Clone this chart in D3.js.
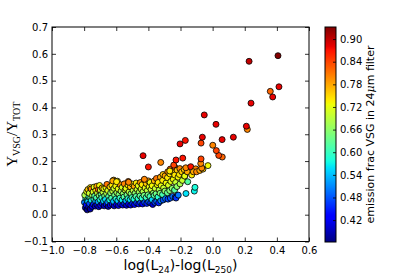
<meta charset="utf-8">
<style>
  body { margin: 0; background: #fff; }
  svg text { font-family: "DejaVu Sans", sans-serif; }
  .tick line { stroke: #000; stroke-width: 0.8; }
  .dot { stroke: #000; stroke-width: 0.8; }
</style>
<body>
<script src="https://d3js.org/d3.v7.min.js"></script>
<script>

// ticks
var xTicks = [-1.0, -0.8, -0.6, -0.4, -0.2, 0.0, 0.2, 0.4, 0.6];
var yTicks = [-0.1, 0.0, 0.1, 0.2, 0.3, 0.4, 0.5, 0.6, 0.7];
var cbarTicks = [0.42, 0.48, 0.54, 0.60, 0.66, 0.72, 0.78, 0.84, 0.90];
var fracRange = [0.362, 0.932];

// points: [log(L24)-log(L250), Yvsg/Ytot, emission frac]
var clusterLeft = [
  [-0.792,0.026,0.38],[-0.798,0.046,0.50],[-0.789,0.061,0.58],[-0.796,0.073,0.68],
  [-0.781,0.018,0.37],[-0.787,0.036,0.44],[-0.780,0.054,0.62],[-0.784,0.086,0.72],
  [-0.772,0.029,0.40],[-0.777,0.049,0.55],[-0.770,0.067,0.60],[-0.776,0.094,0.76],
  [-0.762,0.021,0.38],[-0.767,0.041,0.47],[-0.759,0.063,0.64],[-0.768,0.080,0.70],[-0.761,0.101,0.74],
  [-0.750,0.031,0.42],[-0.755,0.053,0.57],[-0.748,0.072,0.67],[-0.756,0.096,0.80],
  [-0.742,0.039,0.45],[-0.739,0.058,0.60],[-0.744,0.085,0.71],[-0.738,0.103,0.72],
  [-0.731,0.032,0.40],[-0.728,0.050,0.53],[-0.734,0.070,0.62],[-0.727,0.090,0.74],
  [-0.720,0.037,0.43],[-0.723,0.063,0.61],[-0.717,0.081,0.70],[-0.721,0.106,0.78],
  [-0.709,0.030,0.40],[-0.713,0.048,0.52],[-0.706,0.071,0.65],[-0.711,0.094,0.82],[-0.704,0.109,0.73],
  [-0.697,0.035,0.42],[-0.701,0.056,0.58],[-0.694,0.076,0.63],[-0.699,0.092,0.71],
  [-0.686,0.041,0.45],[-0.690,0.063,0.60],[-0.683,0.084,0.69],[-0.688,0.100,0.77],
  [-0.675,0.033,0.39],[-0.679,0.051,0.55],[-0.672,0.070,0.64],[-0.677,0.097,0.72],
  [-0.662,0.039,0.44],[-0.667,0.057,0.56],[-0.660,0.079,0.68],[-0.664,0.101,0.73],[-0.658,0.113,0.81],
  [-0.650,0.031,0.39],[-0.653,0.047,0.51],[-0.647,0.068,0.62],[-0.652,0.090,0.71],
  [-0.637,0.036,0.42],[-0.641,0.055,0.58],[-0.635,0.081,0.66],[-0.639,0.104,0.75],
  [-0.625,0.040,0.45],[-0.629,0.062,0.61],[-0.622,0.088,0.69],[-0.627,0.110,0.74],
  [-0.613,0.033,0.40],[-0.617,0.050,0.54],[-0.610,0.073,0.64],[-0.614,0.098,0.70],[-0.616,0.129,0.77],
  [-0.598,0.038,0.43],[-0.602,0.059,0.59],[-0.596,0.082,0.67],[-0.603,0.107,0.73],[-0.593,0.125,0.72],
  [-0.586,0.034,0.41],[-0.590,0.052,0.55],[-0.583,0.075,0.65],[-0.588,0.096,0.72],
  [-0.573,0.040,0.45],[-0.577,0.062,0.60],[-0.570,0.088,0.68],[-0.576,0.112,0.79],
  [-0.560,0.036,0.42],[-0.564,0.055,0.57],[-0.557,0.078,0.66],[-0.563,0.102,0.71],
  [-0.548,0.042,0.46],[-0.552,0.066,0.62],[-0.545,0.092,0.70],[-0.550,0.115,0.80],
  [-0.536,0.035,0.41],[-0.540,0.052,0.53],[-0.533,0.074,0.64],[-0.539,0.098,0.72],
  [-0.523,0.040,0.44],[-0.527,0.060,0.59],[-0.520,0.085,0.69],[-0.526,0.110,0.74],[-0.525,0.124,0.81],
  [-0.510,0.036,0.42],[-0.514,0.056,0.56],[-0.508,0.078,0.65],[-0.512,0.104,0.76]
];

var clusterRight = [
  [-0.498,0.042,0.46],[-0.502,0.064,0.61],[-0.495,0.090,0.69],[-0.500,0.114,0.73],
  [-0.486,0.038,0.43],[-0.490,0.058,0.58],[-0.483,0.080,0.66],[-0.488,0.106,0.78],
  [-0.473,0.044,0.47],[-0.477,0.068,0.62],[-0.470,0.094,0.70],[-0.476,0.118,0.74],
  [-0.460,0.040,0.44],[-0.464,0.060,0.59],[-0.457,0.084,0.67],[-0.463,0.108,0.72],
  [-0.448,0.045,0.48],[-0.452,0.070,0.63],[-0.445,0.096,0.71],[-0.450,0.120,0.79],
  [-0.436,0.040,0.43],[-0.440,0.062,0.59],[-0.433,0.086,0.68],[-0.439,0.112,0.74],
  [-0.423,0.046,0.48],[-0.427,0.072,0.64],[-0.420,0.100,0.72],[-0.425,0.130,0.80],
  [-0.410,0.042,0.45],[-0.414,0.064,0.60],[-0.407,0.090,0.69],[-0.413,0.116,0.76],
  [-0.398,0.048,0.49],[-0.402,0.074,0.64],[-0.395,0.104,0.72],[-0.400,0.126,0.79],
  [-0.386,0.044,0.46],[-0.390,0.068,0.61],[-0.383,0.094,0.70],[-0.389,0.120,0.73],
  [-0.373,0.038,0.40],[-0.377,0.056,0.55],[-0.370,0.080,0.66],[-0.376,0.108,0.73],
  [-0.360,0.046,0.47],[-0.364,0.072,0.62],[-0.357,0.098,0.70],[-0.363,0.126,0.77],
  [-0.348,0.050,0.50],[-0.352,0.078,0.64],[-0.345,0.112,0.73],[-0.350,0.135,0.81],
  [-0.336,0.044,0.45],[-0.340,0.066,0.59],[-0.333,0.092,0.68],[-0.339,0.120,0.74],
  [-0.323,0.052,0.51],[-0.327,0.080,0.65],[-0.320,0.108,0.72],[-0.325,0.140,0.78],
  [-0.308,0.055,0.48],[-0.312,0.075,0.61],[-0.305,0.100,0.70],[-0.311,0.128,0.74],[-0.309,0.150,0.76],
  [-0.293,0.060,0.50],[-0.297,0.088,0.66],[-0.290,0.118,0.73],[-0.296,0.145,0.78],
  [-0.278,0.058,0.47],[-0.282,0.082,0.63],[-0.275,0.110,0.71],[-0.281,0.138,0.74],[-0.279,0.160,0.80],
  [-0.263,0.062,0.48],[-0.267,0.090,0.65],[-0.260,0.124,0.72],[-0.266,0.152,0.74],[-0.264,0.170,0.82],
  [-0.248,0.068,0.50],[-0.252,0.098,0.66],[-0.245,0.132,0.73],[-0.251,0.160,0.76],
  [-0.233,0.065,0.46],[-0.237,0.092,0.62],[-0.230,0.120,0.70],[-0.236,0.148,0.74],[-0.234,0.176,0.82],
  [-0.218,0.072,0.50],[-0.222,0.105,0.66],[-0.215,0.140,0.73],[-0.221,0.166,0.76],
  [-0.203,0.115,0.68],[-0.207,0.150,0.74],[-0.204,0.172,0.80],
  [-0.188,0.128,0.70],[-0.192,0.160,0.76],
  [-0.173,0.145,0.72],[-0.177,0.168,0.76],
  [-0.228,0.062,0.46],[-0.214,0.073,0.50],[-0.166,0.079,0.56],
  [-0.114,0.088,0.57],[-0.110,0.102,0.58],[-0.155,0.123,0.62]
];

var risingPts = [
  [-0.622,0.126,0.78],[-0.598,0.123,0.74],[-0.523,0.121,0.80],[-0.425,0.132,0.80],
  [-0.267,0.163,0.74],[-0.242,0.185,0.84],[-0.174,0.144,0.72],[-0.158,0.160,0.78],
  [-0.130,0.148,0.74],[-0.167,0.175,0.80],[-0.136,0.179,0.87],[-0.105,0.171,0.80],
  [-0.120,0.160,0.78],[-0.100,0.160,0.80],[-0.080,0.165,0.78],[-0.060,0.170,0.76],
  [-0.068,0.174,0.80],[-0.029,0.183,0.73],[-0.074,0.191,0.80],[-0.072,0.208,0.84],
  [-0.186,0.211,0.87],[-0.228,0.204,0.87],[-0.323,0.195,0.80],[-0.400,0.178,0.87],
  [-0.433,0.220,0.88]
];

var outlierPts = [
  [0.060,0.215,0.82],[0.038,0.221,0.84],[0.023,0.239,0.84],[0.001,0.259,0.80],
  [-0.203,0.264,0.88],[-0.170,0.277,0.87],[-0.072,0.267,0.84],[-0.064,0.289,0.88],
  [0.059,0.280,0.88],[0.129,0.289,0.88],[0.216,0.318,0.80],[0.210,0.330,0.88],
  [0.021,0.337,0.88],[-0.052,0.372,0.88],[0.239,0.416,0.88],[0.374,0.439,0.88],
  [0.359,0.460,0.82],[0.413,0.477,0.88],[0.227,0.572,0.90],[0.407,0.593,0.93]
];

var allPts = clusterLeft.concat(clusterRight, risingPts, outlierPts);

var pLeft = 52, pTop = 27, pRight = 309, pBottom = 241.5;
var svg = d3.select("body").append("svg")
    .attr("width", 415)
    .attr("height", 277);

var x = d3.scaleLinear().domain([-1.0, 0.6]).range([pLeft, pRight]);
var y = d3.scaleLinear().domain([-0.1, 0.7]).range([pBottom, pTop]);

// jet colormap
var jr = d3.scaleLinear().domain([0, 0.35, 0.66, 0.89, 1]).range([0, 0, 1, 1, 0.5]).clamp(true);
var jg = d3.scaleLinear().domain([0, 0.125, 0.375, 0.64, 0.91, 1]).range([0, 0, 1, 1, 0, 0]).clamp(true);
var jb = d3.scaleLinear().domain([0, 0.11, 0.34, 0.65, 1]).range([0.5, 1, 1, 0, 0]).clamp(true);
var norm = d3.scaleLinear().domain(fracRange).range([0, 1]).clamp(true);
function jetT(t) { return d3.rgb(jr(t) * 255, jg(t) * 255, jb(t) * 255).toString(); }
function jet(v) { return jetT(norm(v)); }

// points
svg.append("g").selectAll(".dot")
    .data(allPts)
  .enter().append("circle")
    .attr("class", "dot")
    .attr("cx", function(d) { return x(d[0]); })
    .attr("cy", function(d) { return y(d[1]); })
    .attr("r", 3)
    .attr("fill", function(d) { return jet(d[2]); });

// axes with inward ticks
var fmt = d3.format(".1f");
svg.append("g")
    .attr("transform", "translate(0," + pBottom + ")")
    .call(d3.axisBottom(x).tickValues(xTicks).tickFormat(fmt).tickSizeInner(-4).tickSizeOuter(0).tickPadding(5))
    .call(function(g) { g.select(".domain").remove(); });
svg.append("g")
    .attr("transform", "translate(0," + pTop + ")")
    .call(d3.axisTop(x).tickValues(xTicks).tickFormat("").tickSizeInner(-4).tickSizeOuter(0))
    .call(function(g) { g.select(".domain").remove(); });
svg.append("g")
    .attr("transform", "translate(" + pLeft + ",0)")
    .call(d3.axisLeft(y).tickValues(yTicks).tickFormat(fmt).tickSizeInner(-4).tickSizeOuter(0).tickPadding(4))
    .call(function(g) { g.select(".domain").remove(); });
svg.append("g")
    .attr("transform", "translate(" + pRight + ",0)")
    .call(d3.axisRight(y).tickValues(yTicks).tickFormat("").tickSizeInner(-4).tickSizeOuter(0))
    .call(function(g) { g.select(".domain").remove(); });
svg.selectAll(".tick text").attr("font-size", 10).attr("fill", "#000");

svg.append("rect")
    .attr("x", pLeft).attr("y", pTop)
    .attr("width", pRight - pLeft).attr("height", pBottom - pTop)
    .attr("fill", "none").attr("stroke", "#000").attr("stroke-width", 1);

// x label
var xl = svg.append("text")
    .attr("x", (pLeft + pRight) / 2)
    .attr("y", 270)
    .attr("text-anchor", "middle")
    .attr("font-size", 14);
xl.append("tspan").text("log(L");
xl.append("tspan").attr("font-size", 9).attr("dy", 3).text("24");
xl.append("tspan").attr("dy", -3).text(")-log(L");
xl.append("tspan").attr("font-size", 9).attr("dy", 3).text("250");
xl.append("tspan").attr("dy", -3).text(")");

// y label
var yl = svg.append("text")
    .attr("transform", "translate(17," + (pTop + pBottom) / 2 + ") rotate(-90)")
    .attr("text-anchor", "middle")
    .style("font-family", "'Liberation Serif', serif")
    .attr("font-size", 15);
yl.append("tspan").text("Y");
yl.append("tspan").attr("font-size", 10).attr("dy", 3).text("VSG");
yl.append("tspan").attr("dy", -3).text("/Y");
yl.append("tspan").attr("font-size", 10).attr("dy", 3).text("TOT");

// colorbar
var cbX = 325, cbW = 11, cbTop = 27, cbBottom = 242;
var c = d3.scaleLinear().domain(fracRange).range([cbBottom, cbTop]);
var grad = svg.append("defs").append("linearGradient")
    .attr("id", "jetgrad")
    .attr("x1", 0).attr("y1", 1).attr("x2", 0).attr("y2", 0);
grad.selectAll("stop")
    .data(d3.range(0, 1.0001, 0.01))
  .enter().append("stop")
    .attr("offset", function(t) { return t; })
    .attr("stop-color", function(t) { return jetT(t); });
svg.append("rect")
    .attr("x", cbX).attr("y", cbTop)
    .attr("width", cbW).attr("height", cbBottom - cbTop)
    .attr("fill", "url(#jetgrad)")
    .attr("stroke", "#000").attr("stroke-width", 1);
svg.append("g")
    .attr("transform", "translate(" + (cbX + cbW) + ",0)")
    .call(d3.axisRight(c).tickValues(cbarTicks).tickFormat(d3.format(".2f")).tickSizeInner(-3).tickSizeOuter(0).tickPadding(4))
    .call(function(g) { g.select(".domain").remove(); })
    .selectAll("text").attr("font-size", 10).attr("fill", "#000");

var cl = svg.append("text")
    .attr("transform", "translate(374," + (cbTop + cbBottom) / 2 + ") rotate(-90)")
    .attr("text-anchor", "middle")
    .attr("font-size", 11);
cl.append("tspan").text("emission frac VSG in 24");
cl.append("tspan").style("font-family", "'DejaVu Serif', serif").style("font-style", "italic").text("μ");
cl.append("tspan").text("m filter");

</script>
</body>
